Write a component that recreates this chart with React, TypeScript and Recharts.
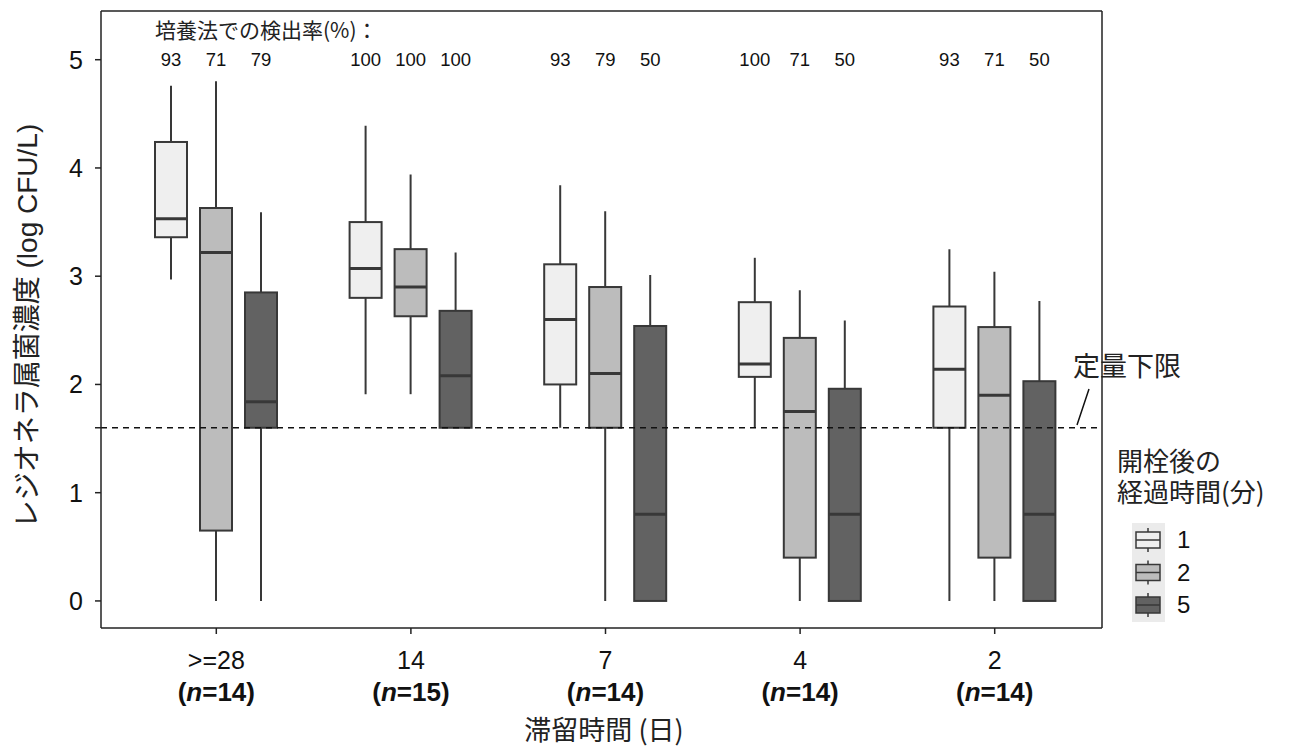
import { Bar, ComposedChart, Customized, Legend, ReferenceLine, XAxis, YAxis } from 'recharts';

const groups = ['>=28', '14', '7', '4', '2'];
const sampleSizes = [14, 15, 14, 14, 14];

// [min, q1, median, q3, max] in log CFU/L, one row per group
const after1min = [
  [2.97, 3.36, 3.53, 4.24, 4.76],
  [1.91, 2.8, 3.07, 3.5, 4.39],
  [1.6, 2.0, 2.6, 3.11, 3.84],
  [1.6, 2.07, 2.19, 2.76, 3.17],
  [0.0, 1.6, 2.14, 2.72, 3.25]
];
const after2min = [
  [0.0, 0.65, 3.22, 3.63, 4.8],
  [1.91, 2.63, 2.9, 3.25, 3.94],
  [0.0, 1.6, 2.1, 2.9, 3.6],
  [0.0, 0.4, 1.75, 2.43, 2.87],
  [0.0, 0.4, 1.9, 2.53, 3.04]
];
const after5min = [
  [0.0, 1.6, 1.84, 2.85, 3.59],
  [1.6, 1.6, 2.08, 2.68, 3.22],
  [0.0, 0.0, 0.8, 2.54, 3.01],
  [0.0, 0.0, 0.8, 1.96, 2.59],
  [0.0, 0.0, 0.8, 2.03, 2.77]
];

// detection rate by culture (%)
const rate1 = [93, 100, 93, 100, 93];
const rate2 = [71, 100, 79, 71, 71];
const rate5 = [79, 100, 50, 50, 50];

const lowerLimit = 1.6;
const yTicks = [0, 1, 1.6, 2, 3, 4, 5];

const data = groups.map((g, i) => ({
  group: g,
  n: sampleSizes[i],
  b1: after1min[i],
  b2: after2min[i],
  b5: after5min[i],
  r1: rate1[i],
  r2: rate2[i],
  r5: rate5[i]
}));

const FONT = '"Liberation Sans", Arial, "Noto Sans CJK JP", sans-serif';
const JP = '"Noto Sans CJK JP", sans-serif';
const EDGE = '#383838';

const makeBox = (key: string, rateKey: string) => (props: any) => {
  const { x, y, width, height, payload, fill } = props;
  const b = payload[key];
  const top = Math.min(y, y + height);
  const bottom = Math.max(y, y + height);
  const lo = b[0];
  const hi = b[4];
  const py = (v: number) => bottom - ((v - lo) / (hi - lo)) * (bottom - top);
  const cx = x + width / 2;
  return (
    <g>
      <line x1={cx} x2={cx} y1={py(hi)} y2={py(lo)} stroke={EDGE} strokeWidth={2} />
      <rect x={x} y={py(b[3])} width={width} height={py(b[1]) - py(b[3])} fill={fill} stroke={EDGE} strokeWidth={2} />
      <line x1={x} x2={x + width} y1={py(b[2])} y2={py(b[2])} stroke={EDGE} strokeWidth={3} />
      <text x={cx} y={py(5)} dy="0.35em" textAnchor="middle" fontSize={18.5} fill="#111" fontFamily={FONT}>
        {payload[rateKey]}
      </text>
    </g>
  );
};

const XTick = (props: any) => {
  const { x, y, payload, index } = props;
  return (
    <g fontFamily={FONT} fill="#111">
      <text x={x} y={y + 35} textAnchor="middle" fontSize={25}>
        {payload.value}
      </text>
      <text x={x} y={y + 67} textAnchor="middle" fontSize={26} fontWeight="bold">
        (<tspan fontStyle="italic">n</tspan>={sampleSizes[index]})
      </text>
    </g>
  );
};

const LegendBox = (props: any) => {
  const items = props.payload || [];
  return (
    <svg width={185} height={205} style={{ display: 'block' }}>
      <text x={7} y={32} dy="0.35em" fontSize={26} fill="#222" fontFamily={JP}>開栓後の</text>
      <text x={7} y={63} dy="0.35em" fontSize={26} fill="#222" fontFamily={JP}>経過時間(分)</text>
      <rect x={22} y={93} width={33} height={99} fill="#ebebeb" />
      {items.map((it: any, i: number) => {
        const cy = 110 + i * 32.5;
        return (
          <g key={it.value}>
            <line x1={38} x2={38} y1={cy - 12} y2={cy + 12} stroke={EDGE} strokeWidth={1.5} />
            <rect x={26} y={cy - 8} width={24} height={16} fill={it.color} stroke={EDGE} strokeWidth={1.5} />
            <line x1={26} x2={50} y1={cy} y2={cy} stroke={EDGE} strokeWidth={1.5} />
            <text x={67} y={cy} dy="0.35em" fontSize={24} fill="#111" fontFamily={FONT}>
              {it.value}
            </text>
          </g>
        );
      })}
    </svg>
  );
};

const Notes = () => (
  <g>
    <text x={155} y={31} dy="0.35em" fontSize={21} fill="#222" fontFamily={JP}>培養法での検出率(%)：</text>
    <text x={27} y={326} dy="0.35em" fontSize={28} fill="#222" fontFamily={FONT} textAnchor="middle" transform="rotate(-90 27 326)">
      レジオネラ属菌濃度 (log CFU/L)
    </text>
    <text x={604} y={731} dy="0.35em" fontSize={27} fill="#222" fontFamily={JP} textAnchor="middle">滞留時間 (日)</text>
    <rect x={1068} y={348} width={118} height={40} fill="#fff" />
    <text x={1127} y={367} dy="0.35em" fontSize={27} fill="#222" fontFamily={JP} textAnchor="middle">定量下限</text>
    <line x1={1089} y1={389} x2={1077} y2={425} stroke="#111" strokeWidth={1.5} />
  </g>
);

export default function App() {
  const axisStyle = { stroke: '#222', strokeWidth: 1.5 };
  return (
    <div style={{ position: 'absolute', left: 0, top: 0, background: '#fff' }}>
      <ComposedChart
        width={1297}
        height={749}
        data={data}
        margin={{ top: 10, right: 194, bottom: 91, left: 41 }}
        barSize={32}
        barGap={13}
      >
        <XAxis
          dataKey="group"
          padding={{ left: 18, right: 10 }}
          interval={0}
          height={30}
          tickSize={6}
          tickMargin={0}
          tick={<XTick />}
          axisLine={axisStyle}
          tickLine={axisStyle}
        />
        <XAxis xAxisId="top" orientation="top" dataKey="group" height={1} tick={false} tickLine={false} axisLine={axisStyle} />
        <YAxis
          type="number"
          domain={[-0.25, 5.45]}
          ticks={yTicks}
          allowDataOverflow
          tickFormatter={(v: number) => (v === lowerLimit ? '' : String(v))}
          width={60}
          tickSize={6}
          tickMargin={12}
          tick={{ fontSize: 25, fill: '#111', fontFamily: FONT }}
          axisLine={axisStyle}
          tickLine={axisStyle}
        />
        <YAxis yAxisId="right" orientation="right" type="number" domain={[0, 1]} width={1} tick={false} tickLine={false} axisLine={axisStyle} />
        <Bar dataKey={(d: any) => [d.b1[0], d.b1[4]]} name="1" fill="#efefef" shape={makeBox('b1', 'r1')} isAnimationActive={false} />
        <Bar dataKey={(d: any) => [d.b2[0], d.b2[4]]} name="2" fill="#bcbcbc" shape={makeBox('b2', 'r2')} isAnimationActive={false} />
        <Bar dataKey={(d: any) => [d.b5[0], d.b5[4]]} name="5" fill="#626262" shape={makeBox('b5', 'r5')} isAnimationActive={false} />
        <ReferenceLine y={lowerLimit} stroke="#111" strokeWidth={1.5} strokeDasharray="6 5" />
        <Legend
          layout="vertical"
          align="center"
          verticalAlign="middle"
          wrapperStyle={{ position: 'absolute', left: 1110, top: 430, width: 185, height: 205 }}
          content={<LegendBox />}
        />
        <Customized component={Notes} />
      </ComposedChart>
    </div>
  );
}
